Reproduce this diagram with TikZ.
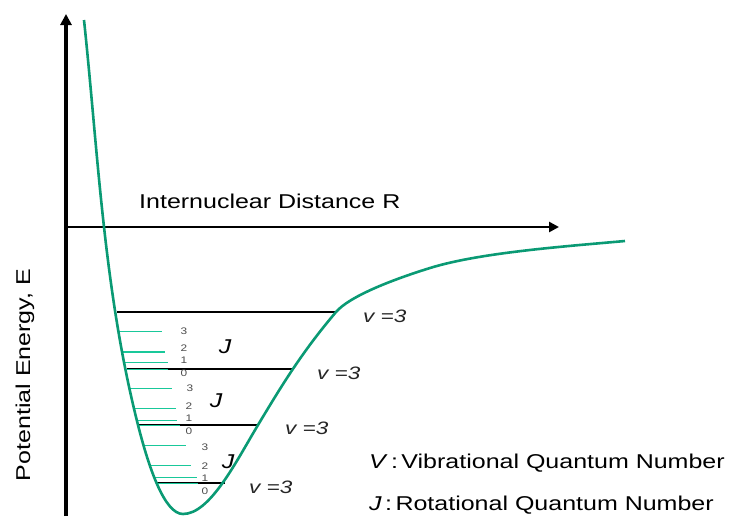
\documentclass[tikz,border=0pt]{standalone}
\usepackage{fontspec}
\setmainfont{Liberation Sans}[FakeStretch=1.25]
\usetikzlibrary{arrows.meta}
\definecolor{curvegreen}{HTML}{0A9A74}
\definecolor{rotgreen}{HTML}{19C89A}
\begin{document}
\begin{tikzpicture}[x=1pt,y=-1pt,
  axis/.style={line width=3.5pt,-{Triangle[length=11pt,width=11pt]}},
  vib/.style={line width=1.2pt,black},
  rot/.style={line width=1pt,rotgreen},
  rotnum/.style={font=\fontsize{9.5}{10}\selectfont,text=black!70,inner sep=0pt},
  jlab/.style={font=\fontsize{20}{22}\selectfont\itshape,inner sep=0pt},
  vlab/.style={font=\fontsize{18}{20}\selectfont\itshape,text=black!85,inner sep=0pt,anchor=west},
  big/.style={font=\fontsize{20}{22}\selectfont,inner sep=0pt}]
\useasboundingbox (0,0) rectangle (730,517);
% axes
\coordinate (o) at (66,227);
\coordinate (ybot) at (66,516);
\coordinate (ytop) at (66,14);
\coordinate (xend) at (559,227);
\draw[axis] (ybot) -- (ytop);
\draw[line width=2.5pt,-{Triangle[length=10pt,width=10pt]}] (o) -- (xend);
% vibrational lines
\draw[vib] (117,312) -- (336,312);
\draw[vib] (127,369) -- (293,369);
\draw[vib] (138,425) -- (258,425);
\draw[vib] (156,483) -- (225,483);
\draw[line width=2.6pt] (198,483) -- (225,483);
% rotational lines
\draw[rot] (119,331) -- (162,331);
\draw[rot,line width=2pt] (122,352) -- (165,352);
\draw[rot] (125,362) -- (168,362);
\draw[rot] (127,369) -- (168,369);
\draw[rot] (130,388) -- (172,388);
\draw[rot] (133,408) -- (176,408);
\draw[rot] (136,420) -- (177,420);
\draw[rot] (137,425) -- (180,425);
\draw[rot] (143,445) -- (186,445);
\draw[rot] (150,465) -- (191,465);
\draw[rot] (154,477) -- (197,477);
\draw[rot] (156,483) -- (198,483);
% potential curve
\draw[curvegreen,line width=2.6pt]
  (84,20) .. controls (98.3,155) and (103.7,290) .. (138,425)
  .. controls (149.4,470) and (165,514) .. (183,514)
  .. controls (210,514) and (235.8,462) .. (258,425)
  .. controls (282,385) and (302,352) .. (336,312)
  .. controls (349,296.8) and (390,280.4) .. (430,268)
  .. controls (480,252.5) and (565,246.4) .. (625,241);
% rotational numbers
\node[rotnum] (a3) at (184,331) {3};
\node[rotnum] (a2) at (184,348) {2};
\node[rotnum] (a1) at (184,360) {1};
\node[rotnum] (a0) at (184,373) {0};
\node[rotnum] (b3) at (190,388) {3};
\node[rotnum] (b2) at (189,406) {2};
\node[rotnum] (b1) at (189,418) {1};
\node[rotnum] (b0) at (189,431) {0};
\node[rotnum] (c3) at (205,447) {3};
\node[rotnum] (c2) at (205,466) {2};
\node[rotnum] (c1) at (205,478) {1};
\node[rotnum] (c0) at (205,491) {0};
% J labels
\node[jlab] (j1) at (225,347) {J};
\node[jlab] (j2) at (216,401) {J};
\node[jlab] (j3) at (228,462) {J};
% v labels
\node[vlab] (v1) at (363,316) {v =3};
\node[vlab] (v2) at (317,373) {v =3};
\node[vlab] (v3) at (285,428) {v =3};
\node[vlab] (v4) at (249,487) {v =3};
% titles
\node[big,anchor=west] (xt) at (139,201) {Internuclear Distance R};
\node[big,rotate=90] (yt) at (25,375) {Potential Energy, E};
\node[big,anchor=west] (vk) at (369,463) {\textit{V}\,:\,Vibrational Quantum Number};
\node[big,anchor=west] (jk) at (369,505) {\textit{J}\,:\,Rotational Quantum Number};
\end{tikzpicture}
\end{document}
